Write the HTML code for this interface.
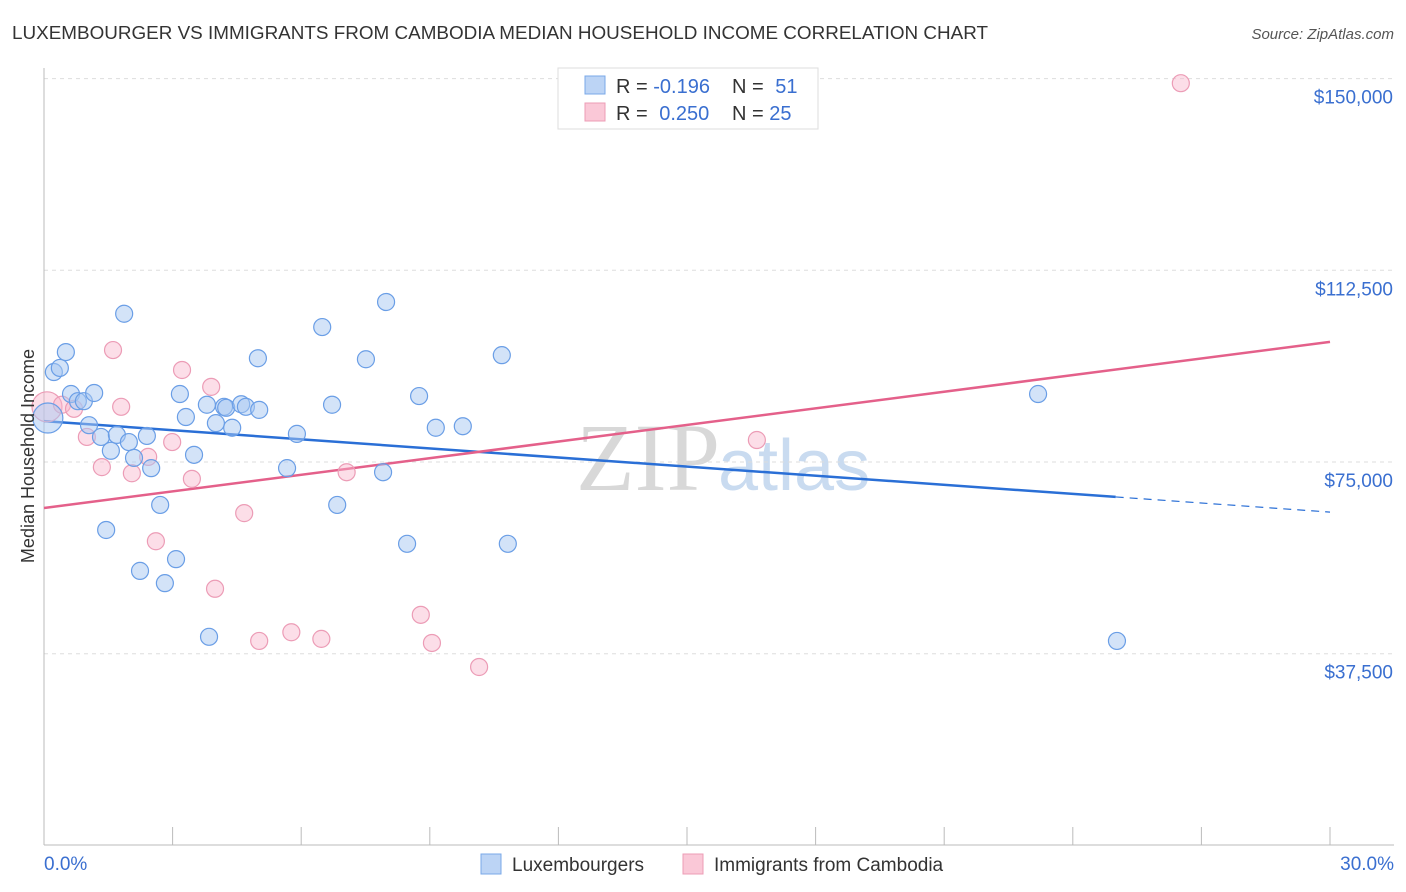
<!DOCTYPE html>
<html><head><meta charset="utf-8"><style>
body{margin:0;background:#fff;font-family:"Liberation Sans",sans-serif;}
svg{display:block}
</style></head><body>
<svg id="chart" width="1406" height="892" xmlns="http://www.w3.org/2000/svg">
<text x="12" y="39" font-size="18" fill="#333" textLength="976" lengthAdjust="spacingAndGlyphs">LUXEMBOURGER VS IMMIGRANTS FROM CAMBODIA MEDIAN HOUSEHOLD INCOME CORRELATION CHART</text>
<text x="1394" y="39" font-size="15" fill="#555" font-style="italic" text-anchor="end">Source: ZipAtlas.com</text>
<text x="720" y="490" font-size="96" fill="#d8d8d8" text-anchor="end" font-family="Liberation Serif">ZIP</text>
<text x="718" y="490" font-size="72" fill="#c9dbf0">atlas</text>
<g id="grid"></g>
<g id="axes"></g>
<g id="trends"></g>
<g id="pts"></g>
<text transform="translate(34,456) rotate(-90)" font-size="18" fill="#333" text-anchor="middle">Median Household Income</text>
<g>
<rect x="558" y="68" width="260" height="61" fill="#fff" stroke="#ddd"/>
<rect x="585" y="76" width="20" height="18" fill="#bcd4f5" stroke="#7aa8e8"/>
<rect x="585" y="103" width="20" height="18" fill="#fac8d7" stroke="#ec9cb6"/>
<text x="616" y="93" font-size="20" fill="#333">R = <tspan fill="#3a6fd0">-0.196</tspan></text>
<text x="732" y="93" font-size="20" fill="#333">N = <tspan fill="#3a6fd0" dx="6">51</tspan></text>
<text x="616" y="120" font-size="20" fill="#333">R = <tspan fill="#3a6fd0" dx="6">0.250</tspan></text>
<text x="732" y="120" font-size="20" fill="#333">N = <tspan fill="#3a6fd0">25</tspan></text>
</g>
<g>
<rect x="481" y="854" width="20" height="20" fill="#bcd4f5" stroke="#7aa8e8"/>
<text x="512" y="871" font-size="19" fill="#333">Luxembourgers</text>
<rect x="683" y="854" width="20" height="20" fill="#fac8d7" stroke="#ec9cb6"/>
<text x="714" y="871" font-size="19" fill="#333">Immigrants from Cambodia</text>
</g>
</svg>
<script>
const blueX=[0.23,0.37,0.51,0.63,0.79,0.93,1.17,1.05,1.33,1.56,1.70,1.87,1.98,2.10,2.40,2.50,1.45,2.24,2.71,2.82,3.08,3.17,3.31,3.50,3.80,3.85,4.01,4.20,4.25,4.39,4.60,4.71,5.02,4.99,5.67,5.90,6.49,6.72,6.84,7.51,7.91,7.98,8.47,8.75,9.14,9.77,10.68,10.82,23.19,25.03,0.09];
const blueY=[92600,93400,96500,88300,86900,86900,88500,82200,79900,77200,80300,104000,78900,75800,80100,73800,61700,53700,66600,51300,56000,88300,83800,76400,86200,40800,82600,85800,85600,81700,86300,85800,85200,95300,73800,80500,101400,86200,66600,95100,73000,106300,59000,87900,81700,82000,95900,59000,88300,40000,83600];
const pinkX=[0.07,0.42,0.70,1.00,1.35,1.61,1.80,2.05,2.43,2.61,2.99,3.22,3.45,3.90,3.99,4.67,5.02,5.77,6.47,7.06,8.79,9.05,10.15,16.63,26.52];
const pinkY=[85800,86200,85400,79900,74000,96900,85800,72800,76000,59500,78900,93000,71700,89700,50200,65000,40000,41700,40400,73000,45100,39600,34900,79300,149100];
const yTicks=[37500,75000,112500,150000];
const yTickLabels=["$37,500","$75,000","$112,500","$150,000"];
const xTicks=[0,3,6,9,12,15,18,21,24,27,30];
const blueTrend=[83000,65200];
const pinkTrend=[66000,98500];
const blueSolidEnd=25;
const NS="http://www.w3.org/2000/svg";
const X=v=>44+v*1286/30;
const Y=v=>462-(v-75000)*191.7/37500;
function mk(tag,attrs,parent){const e=document.createElementNS(NS,tag);for(const k in attrs)e.setAttribute(k,attrs[k]);parent.appendChild(e);return e;}
const grid=document.getElementById('grid'),axes=document.getElementById('axes'),tr=document.getElementById('trends'),pts=document.getElementById('pts');
yTicks.forEach((t,i)=>{
 const l=mk('line',{x1:44,x2:1394,y1:Y(t),y2:Y(t),stroke:'#ddd','stroke-dasharray':'4,4'},grid);
 
 
 const tx=mk('text',{x:1393,y:Y(t)+25,'font-size':19,fill:'#3a6fd0','text-anchor':'end'},axes);
 tx.textContent=yTickLabels[i];
 
 
});
const ax=mk('line',{x1:44,x2:44,y1:68,y2:845,stroke:'#bbb'},axes);


const bx=mk('line',{x1:44,x2:1394,y1:845,y2:845,stroke:'#bbb'},axes);


xTicks.forEach(t=>{
 const l=mk('line',{x1:X(t),x2:X(t),y1:827,y2:845,stroke:'#bbb'},axes);
 
 
});
[[0,'0.0%','start',44],[30,'30.0%','end',1394]].forEach(a=>{
 const tx=mk('text',{x:a[3],y:870,'font-size':19,fill:'#3a6fd0','text-anchor':a[2]},axes);
 tx.textContent=a[1];
 
 
});
const bv=x=>blueTrend[0]+(blueTrend[1]-blueTrend[0])*x/30;
const pv=x=>pinkTrend[0]+(pinkTrend[1]-pinkTrend[0])*x/30;
let l1=mk('line',{x1:X(0),y1:Y(bv(0)),x2:X(blueSolidEnd),y2:Y(bv(blueSolidEnd)),stroke:'#2a6fd6','stroke-width':2.5},tr);


let l2=mk('line',{x1:X(blueSolidEnd),y1:Y(bv(blueSolidEnd)),x2:X(30),y2:Y(bv(30)),stroke:'#2a6fd6','stroke-width':1.2,'stroke-dasharray':'8,6'},tr);


let l3=mk('line',{x1:X(0),y1:Y(pv(0)),x2:X(30),y2:Y(pv(30)),stroke:'#e4608a','stroke-width':2.5},tr);


pinkX.forEach((x,i)=>{
 const c=mk('circle',{cx:X(x),cy:Y(pinkY[i]),r:i===0?15:8.5,fill:'rgba(248,182,204,0.45)',stroke:'#ec9cb6','stroke-width':1.2},pts);
 
 
});
blueX.forEach((x,i)=>{
 const c=mk('circle',{cx:X(x),cy:Y(blueY[i]),r:i===blueX.length-1?15:8.5,fill:'rgba(168,200,242,0.5)',stroke:'#6a9ee6','stroke-width':1.2},pts);
 
 
});
</script>
</body></html>
